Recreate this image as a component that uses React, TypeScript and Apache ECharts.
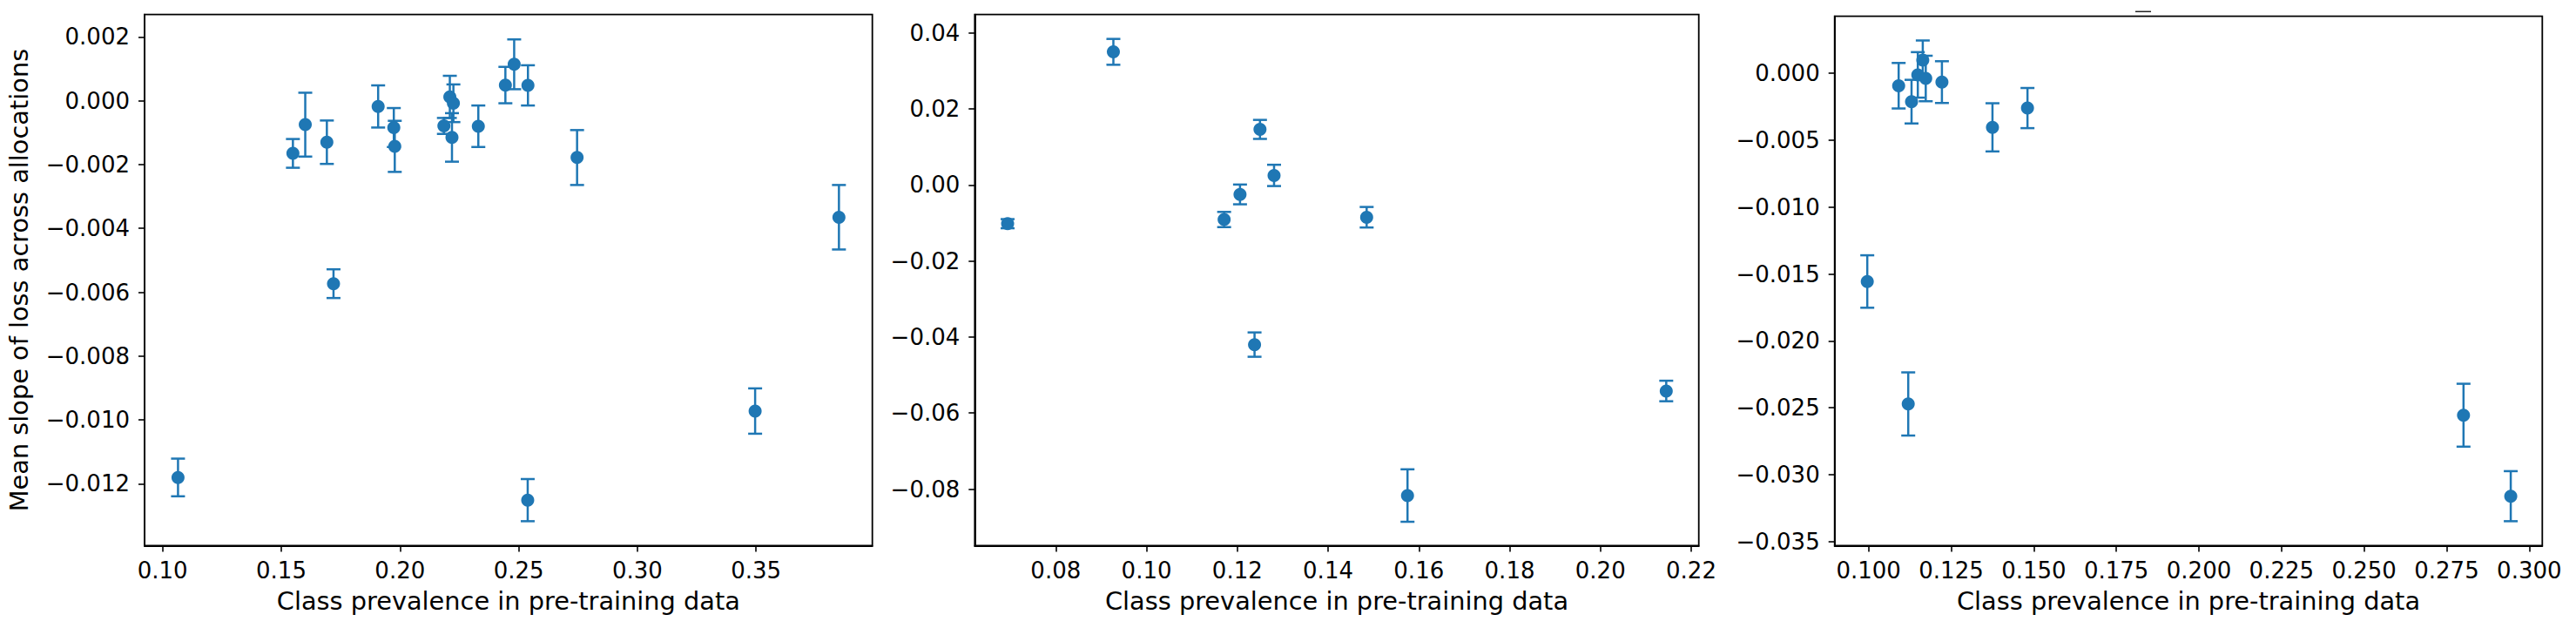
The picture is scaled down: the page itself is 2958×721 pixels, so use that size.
import React, { useEffect, useRef } from "react";
import * as echarts from "echarts";

// ---------- data ----------
const p1X = [0.1065, 0.1549, 0.1601, 0.1692, 0.1720, 0.1908, 0.1974, 0.1978, 0.2185, 0.2210, 0.2225, 0.2219, 0.2330, 0.2444, 0.2481, 0.2539, 0.2746, 0.3849, 0.3496, 0.2538];
const p1Y = [-0.01180, -0.00165, -0.00075, -0.00130, -0.00573, -0.00018, -0.00084, -0.00143, -0.00079, 0.00012, -0.00008, -0.00115, -0.00080, 0.00049, 0.00114, 0.00048, -0.00178, -0.00365, -0.00972, -0.01251];
const p1Err = [0.00059, 0.00045, 0.00100, 0.00068, 0.00045, 0.00066, 0.00061, 0.00080, 0.00025, 0.00066, 0.00059, 0.00076, 0.00065, 0.00057, 0.00078, 0.00063, 0.00086, 0.00101, 0.00071, 0.00066];

const p2X = [0.0694, 0.0927, 0.1171, 0.1206, 0.1250, 0.1238, 0.1281, 0.1485, 0.1575, 0.2145];
const p2Y = [-0.0102, 0.0350, -0.0091, -0.0025, 0.0146, -0.0420, 0.0025, -0.0085, -0.0817, -0.0542];
const p2Err = [0.0012, 0.0034, 0.0020, 0.0026, 0.0025, 0.0032, 0.0028, 0.0027, 0.0069, 0.0027];

const p3X = [0.0996, 0.1091, 0.1130, 0.1120, 0.1149, 0.1164, 0.1173, 0.1222, 0.1375, 0.1481, 0.2801, 0.2944];
const p3Y = [-0.01556, -0.00093, -0.00212, -0.02471, -0.00012, 0.00099, -0.00039, -0.00066, -0.00404, -0.00260, -0.02555, -0.03160];
const p3Err = [0.00196, 0.00170, 0.00163, 0.00236, 0.00170, 0.00146, 0.00170, 0.00156, 0.00180, 0.00150, 0.00235, 0.00187];

const p1XTicks = [0.10, 0.15, 0.20, 0.25, 0.30, 0.35];
const p1YTicks = [-0.012, -0.010, -0.008, -0.006, -0.004, -0.002, 0.0, 0.002];
const p2XTicks = [0.08, 0.10, 0.12, 0.14, 0.16, 0.18, 0.20, 0.22];
const p2YTicks = [-0.08, -0.06, -0.04, -0.02, 0.0, 0.02, 0.04];
const p3XTicks = [0.100, 0.125, 0.150, 0.175, 0.200, 0.225, 0.250, 0.275, 0.300];
const p3YTicks = [-0.035, -0.030, -0.025, -0.020, -0.015, -0.010, -0.005, 0.0];

const X_TITLE = "Class prevalence in pre-training data";
const Y_TITLE = "Mean slope of loss across allocations";

const BLUE = "#1f77b4";
const FONT = "DejaVu Sans";

const fmt = (d: number) => (v: number) => {
  const s = Math.abs(v) < 1e-12 ? (0).toFixed(d) : v.toFixed(d);
  return s.replace("-", "\u2212");
};

const panels = [
  { x: p1X, y: p1Y, e: p1Err, xt: p1XTicks, yt: p1YTicks, xd: 2, yd: 3, xr: [0.09241, 0.39897], yr: [-0.013937, 0.0026985], grid: { left: 166, top: 16.7, width: 835.7, height: 609.8 } },
  { x: p2X, y: p2Y, e: p2Err, xt: p2XTicks, yt: p2YTicks, xd: 2, yd: 2, xr: [0.06216, 0.22167], yr: [-0.09489, 0.04481], grid: { left: 1119.3, top: 16.7, width: 831.4, height: 609.8 } },
  { x: p3X, y: p3Y, e: p3Err, xt: p3XTicks, yt: p3YTicks, xd: 3, yd: 3, xr: [0.08972, 0.30395], yr: [-0.0353, 0.004258], grid: { left: 2106.7, top: 18.7, width: 812.6, height: 607.8 } },
];

function buildOption() {
  const grids: any[] = [];
  const xAxes: any[] = [];
  const yAxes: any[] = [];
  const series: any[] = [];
  panels.forEach((p, i) => {
    grids.push({ ...p.grid, show: true, borderColor: "#000", borderWidth: 1.8, backgroundColor: "transparent", containLabel: false });
    const common = {
      axisLine: { show: true, onZero: false, lineStyle: { color: "#000", width: 1.8 } },
      axisTick: { show: true, inside: false, length: 7, lineStyle: { color: "#000", width: 1.6 } },
      splitLine: { show: false },
    };
    xAxes.push({
      type: "value",
      gridIndex: i,
      min: p.xr[0],
      max: p.xr[1],
      ...common,
      axisTick: { ...common.axisTick, customValues: p.xt },
      axisLabel: { customValues: p.xt, formatter: fmt(p.xd), fontFamily: FONT, fontSize: 26, color: "#000", margin: 15 },
      name: X_TITLE,
      nameLocation: "middle",
      nameGap: 48.5,
      nameTextStyle: { fontFamily: FONT, fontSize: 28.8, color: "#000" },
    });
    yAxes.push({
      type: "value",
      gridIndex: i,
      min: p.yr[0],
      max: p.yr[1],
      ...common,
      axisTick: { ...common.axisTick, customValues: p.yt },
      axisLabel: { customValues: p.yt, formatter: fmt(p.yd), fontFamily: FONT, fontSize: 26, color: "#000", margin: 17 },
      ...(i === 0
        ? { name: Y_TITLE, nameLocation: "middle", nameGap: 130, nameTextStyle: { fontFamily: FONT, fontSize: 28.8, color: "#000" } }
        : {}),
    });
    const data = p.x.map((xv, k) => [xv, p.y[k], p.e[k]]);
    series.push({
      type: "custom",
      xAxisIndex: i,
      yAxisIndex: i,
      z: 2,
      encode: { x: 0, y: 1 },
      data,
      renderItem: (_params: any, api: any) => {
        const xv = api.value(0);
        const yv = api.value(1);
        const ev = api.value(2);
        const t = api.coord([xv, yv + ev]);
        const b = api.coord([xv, yv - ev]);
        const cap = 8;
        const style = { stroke: BLUE, lineWidth: 2.5, fill: null };
        return {
          type: "group",
          children: [
            { type: "line", shape: { x1: t[0], y1: t[1], x2: b[0], y2: b[1] }, style },
            { type: "line", shape: { x1: t[0] - cap, y1: t[1], x2: t[0] + cap, y2: t[1] }, style },
            { type: "line", shape: { x1: b[0] - cap, y1: b[1], x2: b[0] + cap, y2: b[1] }, style },
          ],
        };
      },
    });
    series.push({
      type: "scatter",
      xAxisIndex: i,
      yAxisIndex: i,
      z: 3,
      symbol: "circle",
      symbolSize: 15,
      itemStyle: { color: BLUE, opacity: 1 },
      data: p.x.map((xv, k) => [xv, p.y[k]]),
    });
  });
  return {
    animation: false,
    backgroundColor: "#fff",
    grid: grids,
    xAxis: xAxes,
    yAxis: yAxes,
    series,
    graphic: [
      { type: "line", shape: { x1: 2452, y1: 13.3, x2: 2470, y2: 13.3 }, style: { stroke: "#222", lineWidth: 1.5 } },
    ],
  };
}

export default function App() {
  const ref = useRef<HTMLDivElement>(null);
  useEffect(() => {
    if (!ref.current) return;
    const chart = echarts.init(ref.current, undefined, { renderer: "svg" });
    chart.setOption(buildOption() as any);
    return () => chart.dispose();
  }, []);
  return (
    <div
      ref={ref}
      style={{ position: "fixed", left: 0, top: 0, width: 2958, height: 721, background: "#fff" }}
    />
  );
}
